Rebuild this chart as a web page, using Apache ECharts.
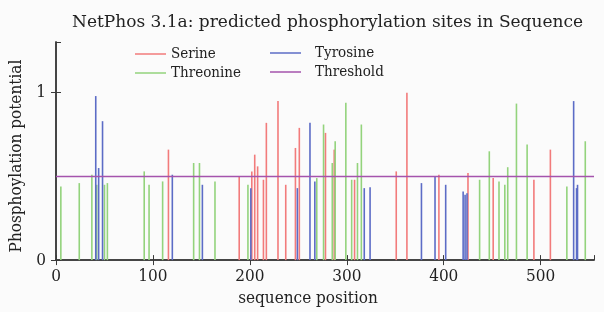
<!DOCTYPE html>
<html>
<head>
<meta charset="utf-8">
<script src="https://cdn.jsdelivr.net/npm/echarts@6/dist/echarts.min.js"></script>
<style>
  html, body { margin: 0; padding: 0; background: #fbfbfb; }
  #chart { width: 604px; height: 312px; }
</style>
</head>
<body>
<div id="chart"></div>
<script>
// data
const seqLength = 555;
const threshold = 0.5;
const xTicks = [0, 100, 200, 300, 400, 500];

const serinePos = [116, 189, 202, 205, 208, 214, 217, 229, 237, 247, 251, 278, 287, 308, 351, 362, 395, 425, 451, 493, 510];
const serineVal = [0.66, 0.50, 0.53, 0.63, 0.56, 0.48, 0.82, 0.95, 0.45, 0.67, 0.79, 0.76, 0.66, 0.48, 0.53, 1.00, 0.51, 0.52, 0.49, 0.48, 0.66];

const threoninePos = [5, 24, 37, 42, 50, 53, 91, 96, 110, 142, 148, 164, 198, 269, 276, 285, 288, 299, 305, 311, 315, 437, 447, 457, 463, 466, 475, 486, 527, 546];
const threonineVal = [0.44, 0.46, 0.51, 0.45, 0.45, 0.46, 0.53, 0.45, 0.47, 0.58, 0.58, 0.47, 0.45, 0.49, 0.81, 0.58, 0.71, 0.94, 0.48, 0.58, 0.81, 0.48, 0.65, 0.47, 0.45, 0.555, 0.935, 0.69, 0.44, 0.71];

const tyrosinePos = [41, 44, 48, 120, 151, 201, 249, 262, 267, 318, 324, 377, 391, 402, 420, 422, 424, 534, 537, 538];
const tyrosineVal = [0.98, 0.55, 0.83, 0.51, 0.45, 0.43, 0.43, 0.82, 0.47, 0.43, 0.435, 0.46, 0.50, 0.45, 0.41, 0.39, 0.40, 0.95, 0.43, 0.45];

const font = '"DejaVu Serif Condensed", "DejaVu Serif", serif';
const wideFont = '"DejaVu Serif", serif';
const axisColor = '#3a3a3a';

function pairs(pos, val) {
    return pos.map((p, i) => [p, val[i]]);
}

function barSeries(name, pos, val, color) {
    return {
        name: name,
        type: 'bar',
        barWidth: 1.6,
        barGap: '-100%',
        itemStyle: { color: color },
        data: pairs(pos, val)
    };
}

const chart = echarts.init(document.getElementById('chart'), null, { renderer: 'canvas' });

const option = {
    backgroundColor: '#fbfbfb',
    animation: false,
    title: {
        text: 'NetPhos 3.1a: predicted phosphorylation sites in Sequence',
        left: 72,
        top: 14,
        padding: 0,
        textStyle: { fontFamily: wideFont, fontSize: 17, fontWeight: 'normal', color: '#222' }
    },
    legend: [
        {
            data: ['Serine', 'Threonine'],
            orient: 'vertical',
            left: 135, top: 46,
            padding: 0,
            icon: 'rect', itemWidth: 31, itemHeight: 1.5, itemGap: 3,
            textStyle: { fontFamily: font, fontSize: 15, lineHeight: 16, color: '#222' }
        },
        {
            data: ['Tyrosine', 'Threshold'],
            orient: 'vertical',
            left: 270, top: 45,
            padding: 0,
            icon: 'rect', itemWidth: 31, itemHeight: 1.5, itemGap: 3,
            textStyle: { fontFamily: font, fontSize: 15, lineHeight: 16, color: '#222', padding: [0, 0, 0, 9] }
        }
    ],
    grid: { left: 56, right: 10, top: 42, bottom: 49 },
    xAxis: [
        {
            type: 'value', min: 0, max: seqLength, interval: 100,
            name: 'sequence position', nameLocation: 'middle', nameGap: 26,
            nameTextStyle: { fontFamily: font, fontSize: 17, color: '#222', padding: [0, 34, 0, 0] },
            axisLine: { show: true, lineStyle: { color: axisColor, width: 1.5 } },
            axisTick: { show: true, length: 5, lineStyle: { color: axisColor } },
            axisLabel: {
                fontFamily: font, fontSize: 17, color: '#222', margin: 8, showMaxLabel: false,
                formatter: v => (xTicks.indexOf(v) >= 0 ? String(v) : '')
            },
            splitLine: { show: false }
        },
        {
            type: 'value', position: 'top', min: 0, max: seqLength, interval: 100,
            axisLine: { show: true, lineStyle: { color: axisColor, width: 1.5 } },
            axisTick: { show: true, length: 5, lineStyle: { color: axisColor } },
            axisLabel: { show: false },
            splitLine: { show: false }
        }
    ],
    yAxis: [
        {
            type: 'value', min: 0, max: 1.303, interval: 1,
            name: 'Phosphoylation potential', nameLocation: 'middle', nameGap: 27, nameRotate: 90,
            nameTextStyle: { fontFamily: font, fontSize: 17, color: '#222', padding: [0, 10, 0, 0] },
            axisLine: { show: true, lineStyle: { color: axisColor, width: 1.5 } },
            axisTick: { show: true, length: 5, lineStyle: { color: axisColor } },
            axisLabel: { fontFamily: font, fontSize: 17, color: '#222', margin: 10, showMaxLabel: false },
            splitLine: { show: false }
        },
        {
            type: 'value', position: 'right', min: 0, max: 1.303, interval: 1,
            axisLine: { show: true, lineStyle: { color: axisColor, width: 1.5 } },
            axisTick: { show: true, length: 5, lineStyle: { color: axisColor } },
            axisLabel: { show: false },
            splitLine: { show: false }
        }
    ],
    series: [
        barSeries('Serine', serinePos, serineVal, '#f27b7b'),
        barSeries('Threonine', threoninePos, threonineVal, '#93d37c'),
        barSeries('Tyrosine', tyrosinePos, tyrosineVal, '#5c6cc6'),
        {
            name: 'Threshold',
            type: 'line',
            showSymbol: false,
            lineStyle: { color: '#a553ad', width: 1.5 },
            itemStyle: { color: '#a553ad' },
            data: [[0, threshold], [seqLength, threshold]]
        }
    ]
};

chart.setOption(option);
</script>
</body>
</html>
